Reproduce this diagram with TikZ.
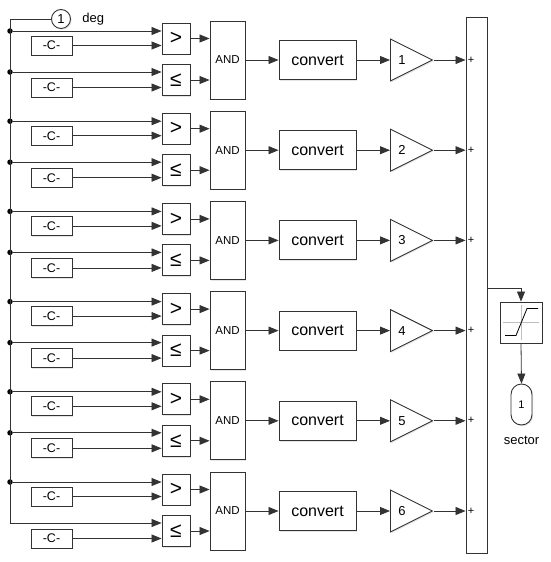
\documentclass[tikz,border=0pt]{standalone}
\usepackage{fontspec}
\setmainfont{Liberation Sans}
\usetikzlibrary{shapes.geometric, arrows.meta, positioning, calc, shadows}

\begin{document}
\begin{tikzpicture}[x=1pt, y=-1pt,
    blk/.style={draw=black!80, line width=0.9pt, fill=white, inner sep=0pt, drop shadow={shadow xshift=1.2pt, shadow yshift=-1.2pt, opacity=0.2}},
    wire/.style={draw=black!80, line width=0.8pt},
    arr/.style={wire, -{Triangle[length=10pt, width=8pt]}},
    dot/.style={circle, fill=black, inner sep=0pt, minimum size=5.5pt},
    const/.style={blk, minimum width=41pt, minimum height=19pt, font=\fontsize{12.5}{12.5}\selectfont},
    cmp/.style={blk, minimum width=28pt, minimum height=31pt, font=\fontsize{21}{21}\selectfont},
    andblk/.style={blk, minimum width=35pt, minimum height=78pt, font=\fontsize{11.5}{11.5}\selectfont},
    conv/.style={blk, minimum width=77pt, minimum height=39pt, font=\fontsize{16}{16}\selectfont},
    gainblk/.style={blk, isosceles triangle, isosceles triangle stretches, minimum width=42pt, minimum height=42pt, font=\fontsize{13}{13}\selectfont},
    plus/.style={font=\fontsize{11}{11}\selectfont, inner sep=2pt}]
    \useasboundingbox (0,0) rectangle (550,562);
    % inport and sum
    \node[blk, circle, minimum size=19pt, font=\fontsize{13}{13}\selectfont, label={[font=\fontsize{13}{13}\selectfont, label distance=8pt]right:deg}] (in) at (61,19) {1};
    \node[blk, minimum width=21pt, minimum height=536pt] (sum) at (476.5,285) {};
    % one row per sector
    \foreach \i in {1,...,6}{
        \pgfmathsetmacro{\b}{(\i-1)*90.2}
        \node[dot] (dA\i) at (10,31+\b) {};
        \ifnum\i<6 \node[dot] (dB\i) at (10,72+\b) {}; \else \coordinate (dB\i) at (10,72+\b); \fi
        \node[const] (cA\i) at (51.5,45.5+\b) {-C-};
        \node[const] (cB\i) at (51.5,87.5+\b) {-C-};
        \node[cmp] (gt\i) at (176,38.5+\b) {>};
        \node[cmp] (le\i) at (176,80+\b) {≤};
        \node[andblk] (and\i) at (227.5,60+\b) {AND};
        \node[conv] (conv\i) at (317.5,60+\b) {convert};
        \node[gainblk, anchor=west] (gain\i) at (390,60+\b) {\i};
        \node[plus, anchor=west] at (sum.west |- gain\i.east) {+};
        \draw[arr] (dA\i) -- (dA\i -| gt\i.west);
        \draw[arr] (cA\i.east) -- (cA\i.east -| gt\i.west);
        \ifnum\i<6 \draw[arr] (dB\i) -- (dB\i -| le\i.west); \fi
        \draw[arr] (cB\i.east) -- (cB\i.east -| le\i.west);
        \draw[arr] (gt\i.east) -- (gt\i.east -| and\i.west);
        \draw[arr] (le\i.east) -- (le\i.east -| and\i.west);
        \draw[arr] (and\i.east) -- (conv\i.west);
        \draw[arr] (conv\i.east) -- (gain\i.west);
        \draw[arr] (gain\i.east) -- (gain\i.east -| sum.west);
    }
    \draw[arr] (in.west) -| (dB6) -- (dB6 -| le6.west);
    % saturation and outport
    \node[blk, minimum width=42pt, minimum height=41pt] (sat) at (521,322.5) {};
    \draw[black!25, line width=0.6pt] ([xshift=3pt]sat.west) -- ([xshift=-3pt]sat.east);
    \draw[black!25, line width=0.6pt] ([yshift=-3pt]sat.north) -- ([yshift=3pt]sat.south);
    \draw[line width=0.8pt] ([shift={(-16,13)}]sat.center) -- ++(11,0) -- ++(11,-27) -- ++(11,0);
    \node[blk, rounded corners=10.5pt, minimum width=21pt, minimum height=41pt, font=\fontsize{11}{11}\selectfont, label={[font=\fontsize{13}{13}\selectfont, label distance=7pt]below:sector}] (out) at (521.5,404.5) {1};
    \draw[arr] ([yshift=-3pt]sum.east) -| (sat.north);
    \draw[arr] (sat.south) -- (out.north);
\end{tikzpicture}
\end{document}
